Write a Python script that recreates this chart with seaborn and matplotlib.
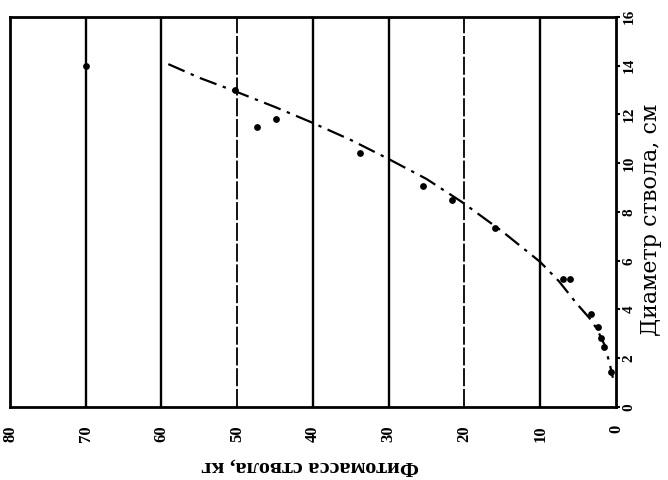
import numpy as np
import pandas as pd
import matplotlib
matplotlib.use("Agg")
import matplotlib.pyplot as plt
import seaborn as sns

# Observed points: stem phytomass (kg) vs stem diameter (cm)
mass_pts = [70.0, 50.3, 47.4, 44.9, 33.8, 25.5, 21.6, 15.9, 7.0, 6.0,
            3.35, 2.42, 1.98, 1.55, 0.7]
diam_pts = [14.0, 13.0, 11.5, 11.8, 10.4, 9.06, 8.48, 7.35, 5.27, 5.27,
            3.81, 3.27, 2.84, 2.45, 1.42]

# Fitted curve
curve_mass = [59.1, 55.0, 50.3, 45.0, 40.4, 35.0, 30.2, 25.0, 20.3, 15.0,
              10.0, 7.5, 5.2, 3.5, 2.5, 1.5, 0.8, 0.4]
curve_diam = [14.06, 13.5, 12.95, 12.3, 11.7, 10.95, 10.2, 9.35, 8.4, 7.2,
              5.95, 5.15, 4.25, 3.65, 3.2, 2.55, 1.75, 1.2]

x_ticks = [80, 70, 60, 50, 40, 30, 20, 10, 0]
y_ticks = [0, 2, 4, 6, 8, 10, 12, 14, 16]
x_label = "Фитомасса ствола, кг"
y_label = "Диаметр ствола, см"

sns.set_theme(style="white")
plt.rcParams["font.family"] = ["Liberation Serif", "DejaVu Serif"]

fig = plt.figure(figsize=(6.68, 4.80), dpi=100)
ax = fig.add_axes([0.015, 0.152, 0.907, 0.813])

# vertical grid lines at x ticks
for v in x_ticks[1:-1]:
    ls = (0, (10, 1.5)) if v in (50, 20) else "-"
    lw = 1.3 if v in (50, 20) else 1.7
    ax.axvline(v, color="black", lw=lw, ls=ls, zorder=1)

pts = pd.DataFrame({"mass": mass_pts, "diam": diam_pts})
crv = pd.DataFrame({"mass": curve_mass, "diam": curve_diam})

sns.lineplot(data=crv, x="mass", y="diam", sort=False, ax=ax,
             color="black", lw=1.6, linestyle=(0, (8, 3, 1.5, 3)), zorder=2)
sns.scatterplot(data=pts, x="mass", y="diam", ax=ax, color="black",
                s=24, edgecolor="black", linewidth=0, zorder=3)

ax.set_xlim(80, 0)
ax.set_ylim(0, 16)
ax.set_xticks(x_ticks)
ax.set_yticks(y_ticks)
ax.set_xticklabels([str(t) for t in x_ticks], rotation=90, fontsize=12,
                   fontweight="bold")
ax.set_yticklabels([str(t) for t in y_ticks], rotation=90, fontsize=11,
                   fontweight="bold", va="center")
ax.yaxis.tick_right()
ax.tick_params(axis="both", direction="out", length=3, width=1.5,
               color="black", pad=2, labelcolor="black")
ax.tick_params(axis="x", pad=10)
ax.set_xlabel("")
ax.set_ylabel("")

for sp in ax.spines.values():
    sp.set_color("black")
    sp.set_linewidth(2)

fig.text(310 / 668, 1 - 466 / 480, x_label, rotation=180, fontsize=16,
         fontweight="bold", ha="center", va="center", color="black")
fig.text(651 / 668, 1 - 220 / 480, y_label, rotation=90, fontsize=16,
         family=["DejaVu Serif"], ha="center", va="center", color="black")

fig.savefig("out.png", dpi=100)
